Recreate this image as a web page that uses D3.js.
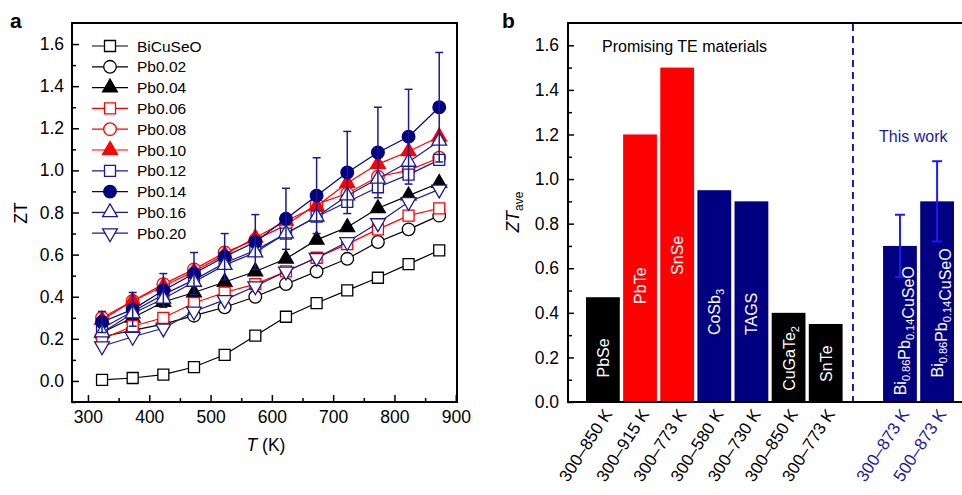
<!DOCTYPE html>
<html>
<head>
<meta charset="utf-8">
<script src="https://cdn.jsdelivr.net/npm/d3@7"></script>
<style>
  body { margin: 0; background: #fff; }
  svg { font-family: "Liberation Sans", Arial, Helvetica, sans-serif; }
</style>
</head>
<body>
<svg id="fig" width="962" height="495"></svg>
<script>
// ---------------- data: panel a ----------------
var temps = [323, 373, 423, 473, 523, 573, 623, 673, 723, 773, 823, 873];
var seriesNames = ["BiCuSeO", "Pb0.02", "Pb0.04", "Pb0.06", "Pb0.08", "Pb0.10", "Pb0.12", "Pb0.14", "Pb0.16", "Pb0.20"];
var ztBiCuSeO = [0.005, 0.014, 0.03, 0.066, 0.124, 0.215, 0.305, 0.37, 0.43, 0.49, 0.555, 0.62];
var ztPb002 = [0.21, 0.24, 0.27, 0.31, 0.35, 0.40, 0.46, 0.52, 0.58, 0.66, 0.72, 0.785];
var ztPb004 = [0.23, 0.30, 0.375, 0.42, 0.47, 0.52, 0.58, 0.67, 0.73, 0.82, 0.88, 0.94];
var ztPb006 = [0.20, 0.26, 0.30, 0.37, 0.42, 0.46, 0.52, 0.585, 0.65, 0.72, 0.785, 0.82];
var ztPb008 = [0.30, 0.38, 0.46, 0.53, 0.61, 0.67, 0.74, 0.84, 0.89, 0.97, 1.00, 1.06];
var ztPb010 = [0.29, 0.38, 0.45, 0.52, 0.60, 0.68, 0.76, 0.83, 0.94, 1.03, 1.09, 1.16];
var ztPb012 = [0.25, 0.33, 0.41, 0.48, 0.56, 0.62, 0.70, 0.78, 0.85, 0.92, 0.98, 1.05];
var ztPb014 = [0.28, 0.34, 0.43, 0.51, 0.59, 0.66, 0.77, 0.88, 0.99, 1.085, 1.16, 1.30];
var errPb014 = [0.05, 0.08, 0.08, 0.10, 0.11, 0.13, 0.145, 0.18, 0.195, 0.215, 0.225, 0.26];
var ztPb016 = [0.23, 0.32, 0.39, 0.47, 0.55, 0.61, 0.70, 0.78, 0.88, 0.96, 1.04, 1.14];
var ztPb020 = [0.165, 0.21, 0.25, 0.33, 0.385, 0.45, 0.52, 0.585, 0.66, 0.75, 0.85, 0.91];
var allZT = [ztBiCuSeO, ztPb002, ztPb004, ztPb006, ztPb008, ztPb010, ztPb012, ztPb014, ztPb016, ztPb020];

// ---------------- data: panel b ----------------
var barNames = ["PbSe", "PbTe", "SnSe", "CoSb_{3}", "TAGS", "CuGaTe_{2}", "SnTe", "Bi_{0.86}Pb_{0.14}CuSeO", "Bi_{0.86}Pb_{0.14}CuSeO"];
var barRanges = ["300–850 K", "300–915 K", "300–773 K", "300–580 K", "300–730 K", "300–850 K", "300–773 K", "300–873 K", "500–873 K"];
var barValues = [0.47, 1.2, 1.5, 0.95, 0.9, 0.4, 0.35, 0.7, 0.9];
var barErrors = [0, 0, 0, 0, 0, 0, 0, 0.14, 0.18];
var barKind = ["k", "r", "r", "b", "b", "k", "k", "w", "w"];   // k black, r red, b navy, w this work

// ---------------- styling ----------------
var NAVY = "#000080", NAVYLINE = "#1b1b8e", RED = "#ff0000";
var seriesStyle = [
  { c: "#000", shape: "square", fill: false },
  { c: "#000", shape: "circle", fill: false },
  { c: "#000", shape: "up", fill: true },
  { c: RED, shape: "square", fill: false },
  { c: RED, shape: "circle", fill: false },
  { c: RED, shape: "up", fill: true },
  { c: NAVYLINE, shape: "square", fill: false },
  { c: NAVY, shape: "circle", fill: true },
  { c: NAVYLINE, shape: "up", fill: false },
  { c: NAVYLINE, shape: "down", fill: false }
];

var svg = d3.select("#fig");

function symbolPath(shape) {
  if (shape === "square") return d3.symbol(d3.symbolSquare, 121)();
  if (shape === "circle") return d3.symbol(d3.symbolCircle, 125)();
  return d3.symbol(d3.symbolTriangle, 95)();
}
function drawMarker(g, shape, x, y, st) {
  g.append("path")
    .attr("d", symbolPath(shape))
    .attr("transform", "translate(" + x + "," + y + ")" + (shape === "down" ? " rotate(180)" : ""))
    .attr("fill", st.fill ? st.c : "#fff")
    .attr("stroke", st.c)
    .attr("stroke-width", 1.3);
}

// ================= panel a =================
var xa = d3.scaleLinear().domain([274, 902]).range([72, 457]);
var ya = d3.scaleLinear().domain([-0.1, 1.7]).range([402, 23]);

var ga = svg.append("g");

// minor ticks
ga.append("g").attr("transform", "translate(0,402)")
  .call(d3.axisBottom(xa).tickValues(d3.range(350, 900, 100)).tickSize(-4).tickFormat(""))
  .call(g => g.select(".domain").remove());
ga.append("g").attr("transform", "translate(72,0)")
  .call(d3.axisLeft(ya).tickValues(d3.range(-0.1, 1.7, 0.2)).tickSize(-4).tickFormat(""))
  .call(g => g.select(".domain").remove());

// major ticks
ga.append("g").attr("class", "axa").attr("transform", "translate(0,402)")
  .call(d3.axisBottom(xa).tickValues(d3.range(300, 901, 100)).tickSize(-7).tickPadding(9))
  .call(g => g.select(".domain").remove());
ga.append("g").attr("class", "axa").attr("transform", "translate(72,0)")
  .call(d3.axisLeft(ya).tickValues(d3.range(0, 1.61, 0.2)).tickSize(-7).tickPadding(8).tickFormat(d3.format(".1f")))
  .call(g => g.select(".domain").remove());
ga.selectAll(".axa text").attr("font-size", 17.5).attr("fill", "#000");
ga.selectAll(".tick line").attr("stroke", "#000").attr("stroke-width", 1.5);

ga.append("rect").attr("x", 72).attr("y", 23).attr("width", 385).attr("height", 379)
  .attr("fill", "none").attr("stroke", "#000").attr("stroke-width", 2);

// lines + markers
var line = d3.line().x((d, i) => xa(temps[i])).y(d => ya(d));
allZT.forEach(function (vals, si) {
  var st = seriesStyle[si];
  ga.append("path").attr("d", line(vals)).attr("fill", "none")
    .attr("stroke", st.c).attr("stroke-width", 1.2);
  vals.forEach(function (v, i) {
    drawMarker(ga, st.shape, xa(temps[i]), ya(v), st);
  });
});

// error bars for Pb0.14
var eb = ga.append("g").attr("stroke", NAVYLINE).attr("stroke-width", 1.5);
ztPb014.forEach(function (v, i) {
  var x = xa(temps[i]);
  eb.append("line").attr("x1", x).attr("x2", x).attr("y1", ya(v - errPb014[i])).attr("y2", ya(v + errPb014[i]));
  [v - errPb014[i], v + errPb014[i]].forEach(function (e) {
    eb.append("line").attr("x1", x - 4).attr("x2", x + 4).attr("y1", ya(e)).attr("y2", ya(e));
  });
});

// legend
var lg = ga.append("g");
seriesNames.forEach(function (name, i) {
  var st = seriesStyle[i];
  var y = 46 + i * 20.8;
  lg.append("line").attr("x1", 92).attr("x2", 128).attr("y1", y).attr("y2", y)
    .attr("stroke", st.c).attr("stroke-width", 1.2);
  drawMarker(lg, st.shape, 110, y, st);
  lg.append("text").attr("x", 137).attr("y", y).attr("dy", "0.36em")
    .attr("font-size", 15.5).text(name);
});

// axis titles
ga.append("text").attr("transform", "translate(27,213) rotate(-90)")
  .attr("text-anchor", "middle").attr("font-size", 17.5).text("ZT");
var tl = ga.append("text").attr("x", 266).attr("y", 451).attr("text-anchor", "middle").attr("font-size", 17.5);
tl.append("tspan").attr("font-style", "italic").text("T");
tl.append("tspan").text(" (K)");

svg.append("text").attr("x", 10).attr("y", 28).attr("font-size", 21).attr("font-weight", "bold").text("a");
svg.append("text").attr("x", 502).attr("y", 28).attr("font-size", 21).attr("font-weight", "bold").text("b");

// ================= panel b =================
var slots = barNames.map((d, i) => "s" + i);
slots.splice(7, 0, "gap");
var xb = d3.scaleBand().domain(slots).range([586, 954]).paddingInner(0.09).paddingOuter(0);
var yb = d3.scaleLinear().domain([0, 1.7]).range([402, 23]);
var slotOf = i => "s" + i;

var gb = svg.append("g");

gb.append("g").attr("transform", "translate(568,0)")
  .call(d3.axisLeft(yb).tickValues(d3.range(0.1, 1.7, 0.2)).tickSize(-4).tickFormat(""))
  .call(g => g.select(".domain").remove());
gb.append("g").attr("class", "axb").attr("transform", "translate(568,0)")
  .call(d3.axisLeft(yb).tickValues(d3.range(0, 1.61, 0.2)).tickSize(-6).tickPadding(9).tickFormat(d3.format(".1f")))
  .call(g => g.select(".domain").remove());
gb.selectAll(".tick line").attr("stroke", "#000").attr("stroke-width", 1.5);
gb.selectAll(".axb text").attr("font-size", 17.5).attr("fill", "#000");

function barColor(k) { return k === "r" ? RED : (k === "k" ? "#000" : NAVY); }

// bars
gb.selectAll("rect.bar").data(barValues).enter().append("rect")
  .attr("class", "bar")
  .attr("x", (d, i) => xb(slotOf(i)))
  .attr("width", xb.bandwidth())
  .attr("y", d => yb(d))
  .attr("height", d => yb(0) - yb(d))
  .attr("fill", (d, i) => barColor(barKind[i]));

// error bars (this work)
var ebb = gb.append("g").attr("stroke", "#1a1aff").attr("stroke-width", 2);
barValues.forEach(function (v, i) {
  if (!barErrors[i]) return;
  var x = xb(slotOf(i)) + xb.bandwidth() / 2;
  ebb.append("line").attr("x1", x).attr("x2", x).attr("y1", yb(v - barErrors[i])).attr("y2", yb(v + barErrors[i]));
  [v - barErrors[i], v + barErrors[i]].forEach(function (e) {
    ebb.append("line").attr("x1", x - 5).attr("x2", x + 5).attr("y1", yb(e)).attr("y2", yb(e));
  });
});

// labels inside bars (rotated), start height in data units
var labelStart = [0.11, 0.44, 0.57, 0.30, 0.30, 0.05, 0.09, 0.03, 0.11];
barNames.forEach(function (name, i) {
  var x = xb(slotOf(i)) + xb.bandwidth() / 2;
  var t = gb.append("text")
    .attr("transform", "translate(" + (x + 6) + "," + yb(labelStart[i]) + ") rotate(-90)")
    .attr("fill", "#fff").attr("font-size", 16);
  name.split(/(_\{[^}]*\})/).forEach(function (part) {
    if (!part) return;
    if (part.startsWith("_{")) {
      t.append("tspan").attr("font-size", 11).attr("dy", 4).text(part.slice(2, -1));
      t.append("tspan").attr("dy", -4).text("");
    } else {
      t.append("tspan").text(part);
    }
  });
});

// x tick labels (temperature ranges)
barRanges.forEach(function (r, i) {
  var x = xb(slotOf(i)) + xb.bandwidth() / 2;
  gb.append("text")
    .attr("transform", "translate(" + (x + 10) + ",414) rotate(-57)")
    .attr("text-anchor", "end").attr("font-size", 17)
    .attr("fill", barKind[i] === "w" ? "#1a1aa0" : "#000")
    .text(r);
});

// frame
gb.append("line").attr("x1", 568).attr("x2", 568).attr("y1", 23).attr("y2", 403).attr("stroke", "#000").attr("stroke-width", 2);
gb.append("line").attr("x1", 567).attr("x2", 962).attr("y1", 23).attr("y2", 23).attr("stroke", "#000").attr("stroke-width", 2);
gb.append("line").attr("x1", 567).attr("x2", 962).attr("y1", 402).attr("y2", 402).attr("stroke", "#000").attr("stroke-width", 2.2);

// dashed separator
var sepX = xb("gap") + 7;
gb.append("line").attr("x1", sepX).attr("x2", sepX).attr("y1", 24).attr("y2", 401)
  .attr("stroke", NAVYLINE).attr("stroke-width", 2).attr("stroke-dasharray", "7,5");

gb.append("text").attr("x", 602).attr("y", 52).attr("font-size", 16).text("Promising TE materials");
gb.append("text").attr("x", 879).attr("y", 142).attr("font-size", 16).attr("fill", "#1a1aa0").text("This work");

var yt = gb.append("text").attr("transform", "translate(519,212) rotate(-90)")
  .attr("text-anchor", "middle").attr("font-size", 17.5);
yt.append("tspan").attr("font-style", "italic").text("ZT");
yt.append("tspan").attr("font-size", 12).attr("dy", 4).text("ave");
</script>
</body>
</html>
